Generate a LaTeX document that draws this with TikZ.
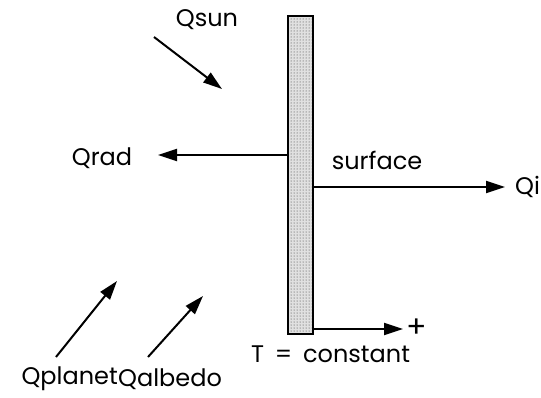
\documentclass[tikz,border=0pt]{standalone}
\usepackage{fontspec}
\setmainfont{Poppins}
\usetikzlibrary{arrows.meta,patterns}
\begin{document}
\begin{tikzpicture}[x=1pt,y=-1pt,
  lbl/.style={inner sep=0pt,font=\fontsize{24}{24}\selectfont},
  arr/.style={line width=2pt,-{Triangle[length=19pt,width=12pt]}},
  wall/.style={draw,line width=1.8pt,minimum width=25pt,minimum height=318pt,inner sep=0pt,
    preaction={fill=black!12},pattern=dots,pattern color=black!80}]
\useasboundingbox (0,0) rectangle (541,397);
\node[wall] (bar) at (300.5,175) {};
\node[lbl] (qsun) at (207,20) {Qsun};
\node[lbl] (qrad) at (102,158) {Qrad};
\node[lbl,anchor=base] (surf) at (377,169) {surface};
\node[lbl,anchor=west] (qi) at (515,187) {Qi};
\node[lbl,font=\fontsize{30}{30}\selectfont] (plus) at (417,328) {+};
\node[lbl,anchor=west] (tc) at (251,354) {T\hspace{0.45em}=\hspace{0.45em}constant};
\node[lbl,anchor=east] (qplanet) at (118,379) {Qplanet};
\node[lbl,anchor=west] (qalbedo) at (118,379) {Qalbedo};
\coordinate (s0) at (154,37); \coordinate (s1) at (222,89);
\coordinate (r1) at (158,155);
\coordinate (i1) at (505,187);
\coordinate (p1) at (403,329);
\coordinate (a0) at (56,357); \coordinate (a1) at (117,281);
\coordinate (b0) at (148,357); \coordinate (b1) at (203,296);
\draw[arr] (s0) -- (s1);
\draw[arr] (bar.west |- r1) -- (r1);
\draw[arr] (bar.east |- i1) -- (i1);
\draw[arr] (bar.east |- p1) -- (p1);
\draw[arr] (a0) -- (a1);
\draw[arr] (b0) -- (b1);
\end{tikzpicture}
\end{document}
